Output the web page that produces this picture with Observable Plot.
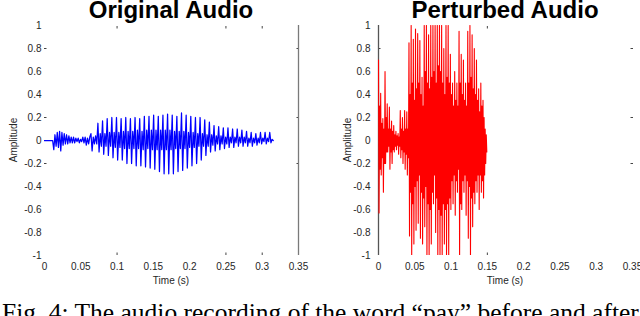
<!DOCTYPE html>
<html>
<head>
<meta charset="utf-8">
<script src="https://cdn.jsdelivr.net/npm/d3@7"></script>
<script src="https://cdn.jsdelivr.net/npm/@observablehq/plot@0.6"></script>
<style>
  html, body { margin: 0; padding: 0; background: #fff; }
  #root { position: relative; width: 640px; height: 316px; overflow: hidden; background: #fff; }
  .panel { position: absolute; top: 0; }
  .title { position: absolute; font-family: "Liberation Sans", Arial, sans-serif; font-weight: bold; font-size: 24px; color: #000; white-space: nowrap; transform: translateX(-50%); line-height: 20px; }
  .xlab { position: absolute; font-family: "Liberation Sans", Arial, sans-serif; font-size: 10px; color: #262626; white-space: nowrap; transform: translateX(-50%); line-height: 10px; }
  .ylab { position: absolute; font-family: "Liberation Sans", Arial, sans-serif; font-size: 10px; color: #262626; white-space: nowrap; transform: translate(-50%, -50%) rotate(-90deg); line-height: 10px; }
  #caption { position: absolute; left: 2px; top: 300px; font-family: "Liberation Serif", "Times New Roman", serif; font-size: 25.5px; line-height: 25.5px; color: #000; white-space: nowrap; }
</style>
</head>
<body>
<div id="root"></div>
<script>
// ---------- data ----------
const titles = ["Original Audio", "Perturbed Audio"];
const xAxisLabel = "Time (s)";
const yAxisLabel = "Amplitude";
const captionText = "Fig. 4: The audio recording of the word \u201cpay\u201d before and after";

const xTickValues = [0, 0.05, 0.1, 0.15, 0.2, 0.25, 0.3, 0.35];
const xTickLabels = ["0", "0.05", "0.1", "0.15", "0.2", "0.25", "0.3", "0.35"];
const yTickValues = [-1, -0.8, -0.6, -0.4, -0.2, 0, 0.2, 0.4, 0.6, 0.8, 1];
const yTickLabels = ["-1", "-0.8", "-0.6", "-0.4", "-0.2", "0", "0.2", "0.4", "0.6", "0.8", "1"];
const yMarkTicks = [-0.2, 0.2, 0.8];           // small visible tick marks
const leftXMarkTicks = [0.1, 0.25, 0.3];
const rightXMarkTicks = [0.15];
const leftEdgeLine = [0.35];                    // grey box edge in left panel
const rightEdgeLine = [0];                      // grey axis line in right panel

// Original audio: samples every 0.0016 s starting at t = 0
const origStep = 0.0016;
const origAmp = [
  0, 0, 0, 0, 0, 0, 0, 0,
  -0.08, 0.05, -0.05, 0.07, -0.06, 0.08, -0.09, 0.07,
  -0.04, 0.06, -0.03, 0.05, -0.03, 0.04, -0.02, 0.03,
  -0.02, 0.03, -0.02, 0.02, -0.01, 0.02, -0.02, 0.01,
  -0.01, 0.03, -0.02, 0.03, -0.04, 0.02, -0.03, 0.03,
  0.06, -0.09, 0.03, -0.03, 0.04, -0.03,
  // voiced pulses: peak, trough, ripple up, ripple down
  0.15, -0.10, 0.06, -0.05,
  0.17, -0.12, 0.06, -0.05,
  0.19, -0.13, 0.07, -0.05,
  0.20, -0.15, 0.07, -0.06,
  0.20, -0.17, 0.07, -0.06,
  0.19, -0.17, 0.08, -0.07,
  0.20, -0.20, 0.08, -0.07,
  0.19, -0.20, 0.08, -0.07,
  0.20, -0.22, 0.09, -0.07,
  0.19, -0.22, 0.08, -0.08,
  0.21, -0.23, 0.09, -0.07,
  0.21, -0.24, 0.09, -0.08,
  0.22, -0.25, 0.09, -0.08,
  0.21, -0.27, 0.09, -0.08,
  0.22, -0.29, 0.09, -0.08,
  0.23, -0.29, 0.09, -0.08,
  0.22, -0.29, 0.08, -0.07,
  0.21, -0.27, 0.08, -0.07,
  0.24, -0.26, 0.08, -0.07,
  0.22, -0.24, 0.07, -0.06,
  0.21, -0.22, 0.07, -0.06,
  0.20, -0.20, 0.06, -0.05,
  0.20, -0.17, 0.06, -0.05,
  0.18, -0.13, 0.05, -0.05,
  0.16, -0.10, 0.05, -0.04,
  0.13, -0.09, 0.04, -0.03,
  0.12, -0.08, 0.04, -0.03,
  0.11, -0.07, 0.03, -0.03,
  0.11, -0.06, 0.03, -0.02,
  0.10, -0.06, 0.03, -0.02,
  0.10, -0.05, 0.03, -0.02,
  0.09, -0.05, 0.03, -0.02,
  0.08, -0.05, 0.02, -0.02,
  0.07, -0.05, 0.02, -0.02,
  0.06, -0.04, 0.02, -0.02,
  0.07, -0.03, 0.02, -0.01,
  0.07, -0.03, 0.02, -0.01,
  0.07, -0.02, 0.01, 0
];

// Perturbed audio: per 0.003 s cycle -> peak, trough, inner up, inner down (0.00075 s apart)
const pertStep = 0.00075;
const pertPeaks = [
  0.70, 0.41, 0.19, 0.60, 0.32, 0.29, 0.17, 0.13, 0.08, 0.06,
  0.26, 0.20, 0.26, 0.25, 0.85, 1.00, 0.88, 0.97, 0.93, 0.87,
  0.55, 1.00, 1.00, 0.92, 1.00, 1.00, 1.00, 1.00, 1.00, 1.00,
  0.80, 1.00, 1.00, 0.75, 0.50, 0.60, 0.50, 0.95, 0.75, 0.70,
  0.50, 0.95, 1.00, 0.92, 0.80, 0.70, 0.45, 0.50, 0.35, 0.10
];
const pertTroughs = [
  -0.63, -0.30, -0.45, -0.20, -0.10, -0.25, -0.20, -0.10, -0.08, -0.12,
  -0.15, -0.20, -0.25, -0.30, -0.83, -1.00, -0.90, -0.78, -0.72, -0.85,
  -0.90, -0.75, -1.00, -1.00, -0.90, -0.55, -0.80, -1.00, -1.00, -1.00,
  -0.90, -1.00, -1.00, -0.60, -0.55, -0.65, -0.45, -1.00, -0.60, -0.45,
  -0.65, -0.85, -1.00, -0.75, -0.55, -0.45, -0.60, -0.45, -0.50, -0.20
];
const pertInnerUp = [
  0.30, 0.15, 0.10, 0.20, 0.10, 0.10, 0.08, 0.05, 0.04, 0.03,
  0.10, 0.08, 0.10, 0.10, 0.40, 0.50, 0.35, 0.45, 0.50, 0.40,
  0.30, 0.60, 0.50, 0.45, 0.55, 0.60, 0.50, 0.65, 0.60, 0.50,
  0.40, 0.55, 0.50, 0.40, 0.30, 0.35, 0.30, 0.50, 0.40, 0.35,
  0.30, 0.50, 0.55, 0.45, 0.40, 0.35, 0.25, 0.30, 0.20, 0.05
];
const pertInnerDown = [
  -0.25, -0.15, -0.20, -0.10, -0.05, -0.10, -0.08, -0.05, -0.04, -0.05,
  -0.08, -0.10, -0.12, -0.15, -0.45, -0.55, -0.40, -0.35, -0.30, -0.45,
  -0.50, -0.40, -0.55, -0.60, -0.45, -0.30, -0.50, -0.60, -0.65, -0.55,
  -0.60, -0.55, -0.50, -0.35, -0.30, -0.35, -0.25, -0.55, -0.35, -0.30,
  -0.35, -0.40, -0.50, -0.45, -0.35, -0.30, -0.30, -0.35, -0.30, -0.10
];

// ---------- build ----------
const origData = origAmp.map((a, i) => ({t: i * origStep, a}));
const pertData = [];
pertPeaks.forEach((p, i) => {
  [p, pertTroughs[i], pertInnerUp[i], pertInnerDown[i]].forEach((a, k) => {
    pertData.push({t: (4 * i + k) * pertStep, a});
  });
});

const fmtX = d => xTickLabels[xTickValues.indexOf(d)];
const fmtY = d => yTickLabels[yTickValues.indexOf(d)];

function panel({data, color, width, marginLeft, marginRight, yPad, edge, edgeColor, xMarks, lineFirst}) {
  const edgeRule = Plot.ruleX(edge, {stroke: edgeColor, strokeWidth: 1.3});
  const wave = Plot.line(data, {x: "t", y: "a", stroke: color, strokeWidth: width, clip: true});
  return Plot.plot({
    width: 320,
    height: 300,
    marginLeft, marginRight,
    marginTop: 25,
    marginBottom: 45,
    style: {fontFamily: "'Liberation Sans', Arial, sans-serif", fontSize: "10px", color: "#262626", background: "transparent", overflow: "visible"},
    x: {domain: [0, 0.35]},
    y: {domain: [-1, 1]},
    marks: [
      Plot.axisX({ticks: xTickValues, tickFormat: fmtX, tickSize: 0, tickPadding: 7, label: null, fill: "#262626"}),
      Plot.axisY({ticks: yTickValues, tickFormat: fmtY, tickSize: 0, tickPadding: yPad, label: null, fill: "#262626"}),
      Plot.axisY({ticks: yMarkTicks, anchor: "left", tickSize: 2.5, dx: 2.5, tickFormat: () => "", label: null, stroke: "#444"}),
      Plot.axisY({ticks: yMarkTicks, anchor: "right", tickSize: 2.5, dx: -2.5, tickFormat: () => "", label: null, stroke: "#444"}),
      Plot.axisX({ticks: xMarks, anchor: "bottom", tickSize: 2.5, dy: -2.5, tickFormat: () => "", label: null, stroke: "#444"}),
      Plot.axisX({ticks: xMarks, anchor: "top", tickSize: 2.5, dy: 2.5, tickFormat: () => "", label: null, stroke: "#444"}),
      ...(lineFirst ? [edgeRule, wave] : [wave, edgeRule])
    ]
  });
}

const root = document.getElementById("root");

const left = panel({data: origData, color: "#0000ff", width: 1.25, marginLeft: 44, marginRight: 22, yPad: 3,
  edge: leftEdgeLine, edgeColor: "#7a7a7a", xMarks: leftXMarkTicks, lineFirst: false});
left.classList.add("panel"); left.style.left = "0px";
root.appendChild(left);

const right = panel({data: pertData, color: "#ff0000", width: 1.1, marginLeft: 58, marginRight: 8, yPad: 8,
  edge: rightEdgeLine, edgeColor: "#555", xMarks: rightXMarkTicks, lineFirst: true});
right.classList.add("panel"); right.style.left = "320px";
root.appendChild(right);

function addDiv(cls, text, x, y) {
  const d = document.createElement("div");
  d.className = cls;
  d.textContent = text;
  d.style.left = x + "px";
  d.style.top = y + "px";
  root.appendChild(d);
  return d;
}
addDiv("title", titles[0], 171, 0);
addDiv("title", titles[1], 505, 0);
addDiv("xlab", xAxisLabel, 171, 276);
addDiv("xlab", xAxisLabel, 505, 276);
addDiv("ylab", yAxisLabel, 14, 140);
addDiv("ylab", yAxisLabel, 348, 140);
const cap = document.createElement("div");
cap.id = "caption";
cap.textContent = captionText;
root.appendChild(cap);
</script>
</body>
</html>
